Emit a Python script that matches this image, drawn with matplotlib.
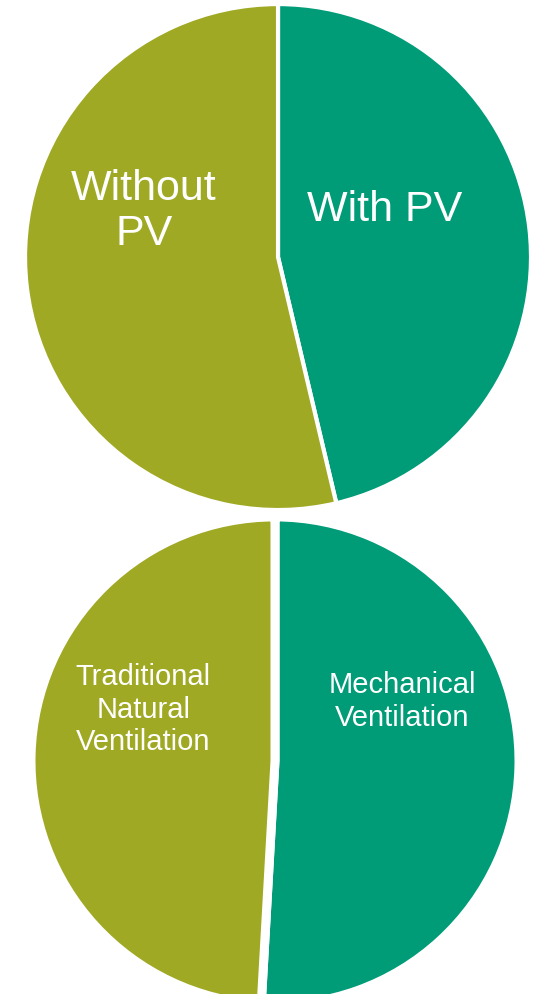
import matplotlib.pyplot as plt

plt.rcParams['font.family'] = ['Liberation Sans', 'DejaVu Sans']

# top pie
pv_labels = ['With PV', 'Without\nPV']
pv_values = [46.3, 53.7]
# bottom pie
vent_labels = ['Mechanical\nVentilation', 'Traditional\nNatural\nVentilation']
vent_values = [50.9, 49.1]

colors = ['#009B77', '#9FA923']

fig = plt.figure(figsize=(5.39, 9.95), dpi=100)

ax1 = fig.add_axes([0.0464, 0.4864, 0.9388, 0.5085])
ax1.pie(pv_values, colors=colors, startangle=90, counterclock=False,
        wedgeprops={'edgecolor': 'white', 'linewidth': 3})
ax1.text(0.42, 0.188, pv_labels[0], color='white', fontsize=31, ha='center', va='center')
ax1.text(-0.53, 0.185, pv_labels[1], color='white', fontsize=31, ha='center', va='center',
         linespacing=1.17)
ax1.set_xlim(-1, 1)
ax1.set_ylim(-1, 1)
ax1.axis('off')

ax2 = fig.add_axes([0.0575, -0.011, 0.9054, 0.4905])
ax2.pie(vent_values, colors=colors, startangle=90, counterclock=False,
        wedgeprops={'edgecolor': 'white', 'linewidth': 6.5})
ax2.text(0.52, 0.248, vent_labels[0], color='white', fontsize=21, ha='center', va='center',
         linespacing=1.2)
ax2.text(-0.54, 0.214, vent_labels[1], color='white', fontsize=21, ha='center', va='center',
         linespacing=1.2)
ax2.set_xlim(-1, 1)
ax2.set_ylim(-1, 1)
ax2.axis('off')

fig.savefig('out.png', dpi=100)
